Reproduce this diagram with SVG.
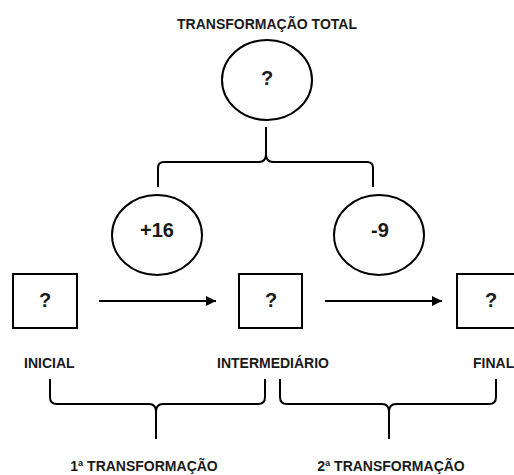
<svg xmlns="http://www.w3.org/2000/svg" width="514" height="475" viewBox="0 0 514 475">
<style>
.shape{fill:#fff;stroke:#000;stroke-width:2}
.line{fill:none;stroke:#000;stroke-width:2;stroke-linecap:butt}
.lbl{font-family:"Liberation Sans",Arial,sans-serif;font-weight:bold;font-size:14px;fill:#1a1a1a}
.val{font-family:"Liberation Sans",Arial,sans-serif;font-weight:bold;font-size:20px;fill:#1a1a1a;text-anchor:middle}
</style>
<defs>
<marker id="arr" viewBox="0 0 10 10" refX="10" refY="5" markerWidth="5" markerHeight="5" markerUnits="strokeWidth" orient="auto">
<path d="M0,0 L10,5 L0,10 Z" fill="#000"/>
</marker>
</defs>
<rect width="514" height="475" fill="#fff"/>
<text class="lbl" x="267" y="29" text-anchor="middle">TRANSFORMAÇÃO TOTAL</text>
<g id="total">
<ellipse class="shape" cx="267" cy="80" rx="45" ry="40"/>
<text class="val" x="267" y="85">?</text>
</g>
<g id="t1">
<ellipse class="shape" cx="157" cy="235" rx="45" ry="40"/>
<text class="val" x="157" y="237">+16</text>
</g>
<g id="t2">
<ellipse class="shape" cx="379" cy="235" rx="45" ry="40"/>
<text class="val" x="380" y="237">-9</text>
</g>
<g id="inicial">
<rect class="shape" x="13" y="274" width="64" height="54"/>
<text class="val" x="45" y="307">?</text>
<text class="lbl" x="24" y="368">INICIAL</text>
</g>
<g id="intermediario">
<rect class="shape" x="239" y="274" width="63" height="54"/>
<text class="val" x="271" y="307">?</text>
<text class="lbl" x="217" y="368">INTERMEDIÁRIO</text>
</g>
<g id="final">
<rect class="shape" x="457" y="274" width="68" height="54"/>
<text class="val" x="491" y="307">?</text>
<text class="lbl" x="473" y="368">FINAL</text>
</g>
<g id="connectors">
<line class="line" x1="99" y1="301" x2="216" y2="301" marker-end="url(#arr)"/>
<line class="line" x1="325" y1="301" x2="442" y2="301" marker-end="url(#arr)"/>
<path class="line" d="M158,187 V168 Q158,162 164,162 H259 Q266,162 266,154 V127"/>
<path class="line" d="M373,187 V168 Q373,162 367,162 H273 Q266,162 266,154"/>
<path class="line" d="M50,379 V397 Q50,404 57,404 H149 Q156,404 156,412 V439"/>
<path class="line" d="M265,379 V397 Q265,404 258,404 H163 Q156,404 156,412"/>
<path class="line" d="M280,379 V397 Q280,404 287,404 H382 Q389,404 389,412 V439"/>
<path class="line" d="M496,379 V397 Q496,404 489,404 H396 Q389,404 389,412"/>
</g>
<text class="lbl" x="144" y="471" text-anchor="middle">1ª TRANSFORMAÇÃO</text>
<text class="lbl" x="391" y="471" text-anchor="middle">2ª TRANSFORMAÇÃO</text>
</svg>
